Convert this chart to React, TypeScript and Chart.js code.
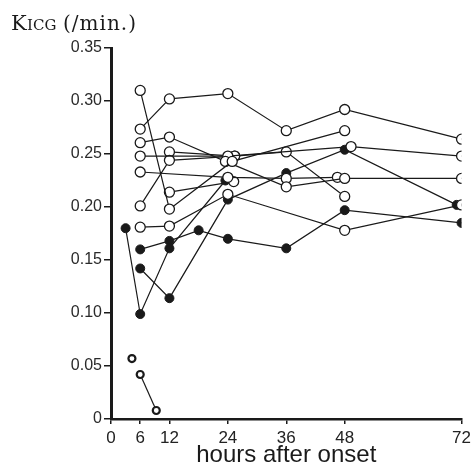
import React, { useEffect, useRef } from "react";
import { Chart, registerables } from "chart.js";

Chart.register(...registerables);

// x tick labels (hours after onset)
const xTicks = [0, 6, 12, 24, 36, 48, 72];
const yTicks = [0, 0.05, 0.1, 0.15, 0.2, 0.25, 0.3, 0.35];

// open-circle patients: hours + KICG values
const o1Hours = [6, 12, 24.9, 48];
const o1Vals = [0.31, 0.198, 0.243, 0.272];
const o2Hours = [6, 12, 24, 36, 48, 72];
const o2Vals = [0.2735, 0.302, 0.307, 0.272, 0.292, 0.264];
const o3Hours = [6, 12, 23.5, 36, 48, 72];
const o3Vals = [0.2607, 0.266, 0.243, 0.219, 0.227, 0.227];
const o4Hours = [6, 24, 49.3, 72];
const o4Vals = [0.248, 0.248, 0.257, 0.248];
const o5Hours = [6, 24, 36, 46.5];
const o5Vals = [0.233, 0.228, 0.227, 0.228];
const o6Hours = [6, 12, 25.4, 36, 48];
const o6Vals = [0.201, 0.244, 0.248, 0.252, 0.21];
const o7Hours = [6, 12, 24, 48, 72];
const o7Vals = [0.181, 0.182, 0.212, 0.178, 0.202];
const o8Hours = [12, 25.2];
const o8Vals = [0.214, 0.224];
const o9Hours = [12, 25.4];
const o9Vals = [0.252, 0.248];

// filled-circle patients
const f1Hours = [3, 6, 12, 23.5];
const f1Vals = [0.18, 0.099, 0.161, 0.225];
const f2Hours = [6, 12, 18, 24, 36, 48, 72];
const f2Vals = [0.16, 0.168, 0.178, 0.17, 0.161, 0.197, 0.185];
const f3Hours = [6, 12, 24, 36, 48, 71];
const f3Vals = [0.142, 0.114, 0.207, 0.232, 0.254, 0.202];

// bottom group (thick small circles)
const b1Hours = [4.3];
const b1Vals = [0.057];
const b2Hours = [6, 9.3];
const b2Vals = [0.042, 0.008];

const toPts = (h: number[], v: number[]) => h.map((x, i) => ({ x, y: v[i] }));

export default function App() {
  const ref = useRef<HTMLCanvasElement | null>(null);
  useEffect(() => {
    document.body.style.margin = "0";
    const ink = "#1a1a1a";
    const open = (h: number[], v: number[]) => ({
      data: toPts(h, v),
      borderColor: ink,
      borderWidth: 1.2,
      pointRadius: 5,
      pointBackgroundColor: "#ffffff",
      pointBorderColor: ink,
      pointBorderWidth: 1.3,
      showLine: true,
    });
    const filled = (h: number[], v: number[]) => ({
      data: toPts(h, v),
      borderColor: ink,
      borderWidth: 1.2,
      pointRadius: 4.5,
      pointBackgroundColor: ink,
      pointBorderColor: ink,
      pointBorderWidth: 1,
      showLine: true,
    });
    const thick = (h: number[], v: number[]) => ({
      data: toPts(h, v),
      borderColor: ink,
      borderWidth: 1.2,
      pointRadius: 3.5,
      pointBackgroundColor: "#ffffff",
      pointBorderColor: ink,
      pointBorderWidth: 2.2,
      showLine: true,
    });
    const titlePlugin = {
      id: "ytitle",
      afterDraw(chart: any) {
        const ctx = chart.ctx;
        ctx.save();
        ctx.fillStyle = ink;
        ctx.textBaseline = "alphabetic";
        ctx.font = "21px 'DejaVu Serif', serif";
        ctx.fillText("K", 11, 30);
        ctx.font = "15px 'DejaVu Serif', serif";
        ctx.fillText("ICG", 27, 30);
        ctx.font = "20px 'DejaVu Serif', serif";
        (ctx as any).letterSpacing = "1px";
        ctx.fillText("(/min.)", 63, 30);
        ctx.restore();
      },
    };
    const chart = new Chart(ref.current!, {
      type: "scatter",
      data: {
        datasets: [
          open(o1Hours, o1Vals),
          open(o2Hours, o2Vals),
          open(o3Hours, o3Vals),
          open(o4Hours, o4Vals),
          open(o5Hours, o5Vals),
          open(o6Hours, o6Vals),
          open(o7Hours, o7Vals),
          open(o8Hours, o8Vals),
          open(o9Hours, o9Vals),
          filled(f1Hours, f1Vals),
          filled(f2Hours, f2Vals),
          filled(f3Hours, f3Vals),
          thick(b1Hours, b1Vals),
          thick(b2Hours, b2Vals),
        ] as any,
      },
      options: {
        animation: false,
        responsive: false,
        layout: { padding: { top: 48, right: 9, left: 0, bottom: 0 } },
        plugins: { legend: { display: false }, tooltip: { enabled: false } },
        scales: {
          x: {
            type: "linear",
            min: 0,
            max: 72,
            afterBuildTicks: (s: any) => {
              s.ticks = xTicks.map((v) => ({ value: v }));
            },
            afterFit: (s: any) => {
              s.height = 51;
            },
            grid: { display: true, drawOnChartArea: false, drawTicks: true, tickLength: 5, color: ink, lineWidth: 1.5 },
            border: { display: true, color: ink, width: 2.5 },
            ticks: { color: "#222", font: { size: 17, family: "'Liberation Sans', Arial, sans-serif" }, padding: 4, maxRotation: 0, autoSkip: false },
            title: { display: true, text: "hours after onset", color: ink, font: { size: 24, family: "'Liberation Sans', Arial, sans-serif" }, padding: { top: -3, bottom: 0 } },
          },
          y: {
            type: "linear",
            min: 0,
            max: 0.35,
            afterBuildTicks: (s: any) => {
              s.ticks = yTicks.map((v) => ({ value: v }));
            },
            afterFit: (s: any) => {
              s.width = 111;
            },
            grid: { display: true, drawOnChartArea: false, drawTicks: true, tickLength: 7, color: ink, lineWidth: 1.5 },
            border: { display: true, color: ink, width: 3 },
            ticks: {
              color: "#2a2a2a",
              font: { size: 16, family: "'Liberation Sans', Arial, sans-serif" },
              padding: 2,
              callback: (v: any) => (v === 0 ? "0" : Number(v).toFixed(2)),
            },
          },
        },
      },
      plugins: [titlePlugin],
    });
    return () => chart.destroy();
  }, []);
  return <canvas ref={ref} width={475} height={470} style={{ display: "block" }} />;
}
